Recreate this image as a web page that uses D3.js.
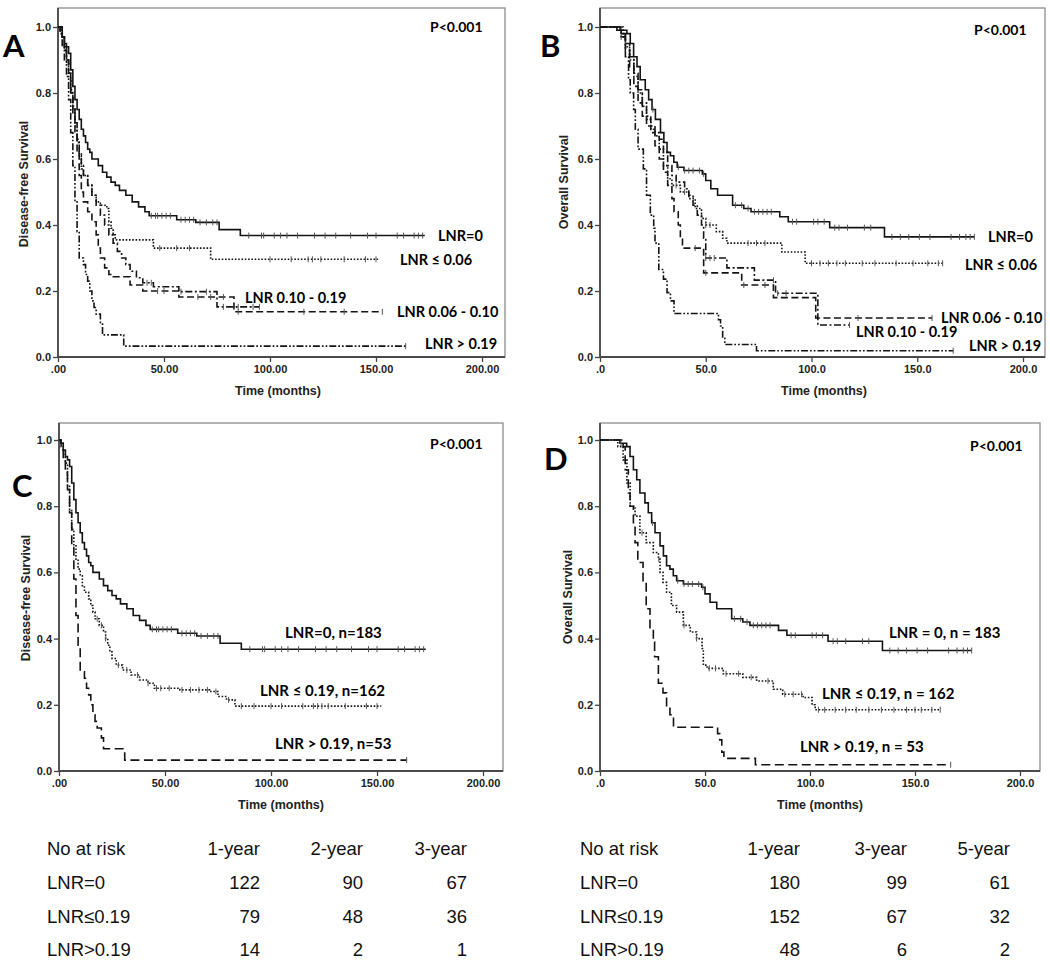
<!DOCTYPE html>
<html><head><meta charset="utf-8">
<script src="https://cdn.jsdelivr.net/npm/d3@7"></script>
<style>body{margin:0;background:#fff}svg{display:block}</style>
</head><body>
<svg id="c" width="1050" height="962"></svg>
<script>
// ---------------- DATA ----------------
const xTicks = [0, 50, 100, 150, 200];
const yTicks = [0, 0.2, 0.4, 0.6, 0.8, 1.0];
const xTickLabelsDFS = [".00", "50.00", "100.00", "150.00", "200.00"];
const xTickLabelsOS = [".0", "50.0", "100.0", "150.0", "200.0"];
const yTickLabels = ["0.0", "0.2", "0.4", "0.6", "0.8", "1.0"];
const xTitle = "Time (months)";
const yTitleDFS = "Disease-free Survival";
const yTitleOS = "Overall Survival";
const pValue = "P<0.001";
const panelLetters = ["A", "B", "C", "D"];

// Disease-free survival, [months, survival]
const dfs_lnr0 = [[0,1],[1,0.99],[2,0.97],[3,0.95],[4,0.94],[5,0.92],[6,0.87],[7,0.82],[8,0.78],[9,0.75],[10,0.72],[11,0.69],[12,0.67],[13,0.65],[14,0.63],[15,0.62],[16,0.60],[19,0.58],[21,0.56],[23,0.545],[25,0.53],[27,0.52],[29,0.505],[32,0.49],[35,0.47],[38,0.455],[41,0.44],[43,0.428],[56,0.416],[65,0.408],[76,0.386],[86,0.368],[173,0.368]];
const dfs_le006 = [[0,1],[2,0.97],[3,0.93],[4,0.89],[5,0.85],[6,0.80],[7,0.75],[8,0.70],[9,0.65],[10,0.61],[11,0.57],[12,0.55],[14,0.52],[16,0.49],[18,0.47],[20,0.46],[23,0.45],[24,0.41],[25,0.39],[26,0.37],[27,0.355],[45,0.33],[72,0.296],[151,0.296]];
const dfs_006_010 = [[0,1],[2,0.97],[3,0.94],[4,0.90],[5,0.86],[6,0.80],[7,0.74],[8,0.68],[9,0.62],[10,0.55],[11,0.50],[12,0.47],[14,0.44],[16,0.41],[18,0.37],[19,0.33],[20,0.30],[22,0.27],[24,0.25],[26,0.243],[34,0.218],[40,0.20],[57,0.182],[83,0.137],[153,0.137]];
const dfs_010_019 = [[0,1],[2,0.97],[3,0.94],[4,0.90],[5,0.86],[6,0.81],[7,0.76],[8,0.71],[9,0.66],[10,0.62],[11,0.58],[12,0.55],[14,0.52],[16,0.49],[18,0.46],[20,0.43],[22,0.40],[24,0.37],[26,0.345],[28,0.32],[30,0.30],[32,0.28],[34,0.26],[37,0.24],[40,0.225],[45,0.213],[57,0.198],[75,0.152],[95,0.152]];
const dfs_gt019 = [[0,1],[1,0.98],[2,0.94],[3,0.90],[4,0.85],[5,0.78],[6,0.68],[7,0.58],[8,0.47],[9,0.38],[10,0.30],[12,0.28],[13,0.25],[14,0.23],[15,0.20],[16,0.17],[17,0.15],[18,0.13],[20,0.10],[21,0.067],[31,0.033],[164,0.033]];
const dfs_le019 = [[0,1],[1,0.99],[2,0.97],[3,0.93],[4,0.86],[5,0.79],[6,0.73],[7,0.68],[8,0.64],[9,0.61],[10,0.59],[11,0.56],[12,0.54],[14,0.52],[15,0.50],[16,0.48],[17,0.46],[19,0.44],[21,0.42],[22,0.40],[23,0.38],[24,0.36],[25,0.34],[27,0.32],[30,0.305],[34,0.29],[38,0.275],[42,0.265],[45,0.25],[57,0.245],[71,0.24],[75,0.225],[79,0.215],[83,0.196],[152,0.196]];

// Overall survival, [months, survival]
const os_lnr0 = [[0,1],[9.5,0.99],[12.7,0.98],[14.3,0.95],[15.9,0.91],[17.5,0.88],[19,0.84],[21.4,0.81],[23,0.78],[24.6,0.75],[26.2,0.72],[28.6,0.68],[30.2,0.65],[31.7,0.62],[33.3,0.61],[34.9,0.59],[36.5,0.575],[39.7,0.565],[48.4,0.555],[50,0.535],[52.4,0.51],[55.6,0.49],[62.7,0.46],[68,0.45],[71.4,0.44],[85,0.425],[89,0.41],[108.6,0.392],[134.5,0.364],[177,0.364]];
const os_le006 = [[0,1],[8,0.99],[10,0.97],[12,0.94],[14,0.90],[16,0.85],[18,0.80],[20,0.76],[22,0.72],[24,0.69],[26,0.67],[28,0.63],[30,0.58],[32,0.54],[34,0.52],[38,0.50],[42,0.48],[45,0.45],[48,0.42],[50,0.40],[55,0.38],[58,0.36],[60,0.345],[86,0.318],[97,0.284],[162,0.284]];
const os_006_010 = [[0,1],[8,0.99],[10,0.97],[12,0.93],[14,0.88],[16,0.82],[18,0.77],[20,0.73],[22,0.70],[24,0.68],[26,0.64],[28,0.60],[30,0.56],[32,0.52],[34,0.48],[35,0.44],[37,0.40],[38,0.36],[39,0.33],[49,0.255],[67,0.218],[82,0.18],[102,0.118],[157,0.118]];
const os_010_019 = [[0,1],[8,0.99],[10,0.98],[12,0.95],[14,0.91],[16,0.86],[18,0.81],[20,0.77],[22,0.73],[24,0.70],[26,0.68],[28,0.66],[30,0.62],[32,0.58],[34,0.55],[36,0.53],[40,0.51],[42,0.49],[44,0.46],[46,0.43],[48,0.40],[49,0.36],[50,0.30],[60,0.27],[73,0.233],[83,0.193],[103,0.097],[118,0.097]];
const os_gt019 = [[0,1],[11,0.98],[12,0.91],[13.5,0.84],[14.3,0.80],[15.9,0.75],[16.7,0.69],[18,0.63],[20.5,0.57],[22,0.49],[23.8,0.43],[25.4,0.39],[26,0.345],[27.8,0.265],[30,0.236],[31.7,0.195],[33.3,0.17],[35,0.132],[56,0.113],[57,0.094],[58,0.057],[59,0.038],[74,0.019],[167,0.019]];
const os_le019 = [[0,1],[8.5,0.98],[11,0.94],[12.8,0.87],[14.4,0.80],[16.7,0.77],[19,0.72],[22,0.69],[25.4,0.66],[27.8,0.64],[28.6,0.60],[30,0.57],[31.7,0.54],[34,0.50],[36.5,0.48],[39.7,0.44],[43,0.42],[46,0.40],[48.6,0.37],[49.2,0.32],[51,0.31],[58.7,0.294],[68,0.283],[74.6,0.272],[82.5,0.247],[87,0.232],[96.7,0.222],[101,0.20],[102.5,0.185],[162,0.185]];

// censored observation times (months)
const cens_dfs_lnr0 = [44,46,47,49,51,53,58,60,62,64,67,70,73,75,90,96,97,102,105,108,113,121,126,131,138,146,150,160,163,168,170,172];
const cens_dfs_le006 = [48,56,62,100,110,118,120,124,135,145,150];
const cens_dfs_006_010 = [47,50,66,72,78,85,116,135,153];
const cens_dfs_010_019 = [42,44,58,70,78,85,92,95];
const cens_dfs_gt019 = [164];
const cens_dfs_le019 = [18,20,22,28,32,37,42,46,48,52,58,62,66,70,74,80,86,92,100,105,115,120,122,124,127,135,145,150];
const cens_os_lnr0 = [10,25,37,40,42,44,47,49,64,67,70,73,75,77,79,81,91,93,101,103,106,111,113,117,125,128,138,142,146,151,156,166,170,173,175,177];
const cens_os_le006 = [10,36,40,50,52,70,74,78,100,104,108,112,116,124,130,140,148,155,160,162];
const cens_os_006_010 = [45,50,68,78,122,157];
const cens_os_010_019 = [50,52,54,82,84,88,118];
const cens_os_gt019 = [167];
const cens_os_le019 = [12,20,28,40,46,52,55,60,66,72,80,88,92,96,104,107,112,117,122,128,134,140,146,150,153,158,162];

const labelsA = ["LNR=0", "LNR \u2264 0.06", "LNR 0.10 - 0.19", "LNR 0.06 - 0.10", "LNR > 0.19"];
const labelsB = ["LNR=0", "LNR \u2264 0.06", "LNR 0.06 - 0.10", "LNR 0.10 - 0.19", "LNR > 0.19"];
const labelsC = ["LNR=0, n=183", "LNR \u2264 0.19, n=162", "LNR > 0.19, n=53"];
const labelsD = ["LNR = 0, n = 183", "LNR \u2264 0.19, n = 162", "LNR > 0.19, n = 53"];

// numbers at risk
const riskRowNames = ["LNR=0", "LNR\u22640.19", "LNR>0.19"];
const riskHeader = "No at risk";
const dfsRiskCols = ["1-year", "2-year", "3-year"];
const dfsRisk = [[122, 90, 67], [79, 48, 36], [14, 2, 1]];
const osRiskCols = ["1-year", "3-year", "5-year"];
const osRisk = [[180, 99, 61], [152, 67, 32], [48, 6, 2]];

// ---------------- LAYOUT / STYLE ----------------
const FONT_AX = "'Liberation Sans', Arial, Helvetica, sans-serif";
const FONT_LB = "Lato, 'Open Sans', sans-serif";
const INK = "#141414";
const dash = {
  solid: null,
  dotted: "1.6,1.7",
  dashed: "7,3.5",
  dashdot: "7,2.5,2,2.5",
  dashdotdot: "7,2,1.7,2,1.7,2",
  longdash: "9,4.5"
};

const panels = [
  { letter: panelLetters[0], letterPos: [3, 57], frame: {l:58, r:505, t:8, b:357}, x200: 482, y1: 27,
    xLabels: xTickLabelsDFS, yTitle: yTitleDFS, yTitlePos: [28, 184], xTitleX: 278, pPos: [430, 32], lblSize: 14.5,
    series: [
      {d: dfs_lnr0, c: cens_dfs_lnr0, s: "solid"},
      {d: dfs_le006, c: cens_dfs_le006, s: "dotted"},
      {d: dfs_006_010, c: cens_dfs_006_010, s: "dashed"},
      {d: dfs_010_019, c: cens_dfs_010_019, s: "dashdot"},
      {d: dfs_gt019, c: cens_dfs_gt019, s: "dashdotdot"}],
    labels: labelsA, labelPos: [[438,241],[400,265],[245,303],[397,317],[425,349]] },
  { letter: panelLetters[1], letterPos: [540, 57], frame: {l:600, r:1045, t:8, b:357}, x200: 1023, y1: 27,
    xLabels: xTickLabelsOS, yTitle: yTitleOS, yTitlePos: [568, 182], xTitleX: 824, pPos: [974, 35], lblSize: 14.5,
    series: [
      {d: os_lnr0, c: cens_os_lnr0, s: "solid"},
      {d: os_le006, c: cens_os_le006, s: "dotted"},
      {d: os_006_010, c: cens_os_006_010, s: "dashed"},
      {d: os_010_019, c: cens_os_010_019, s: "dashdot"},
      {d: os_gt019, c: cens_os_gt019, s: "dashdotdot"}],
    labels: labelsB, labelPos: [[988,242],[965,270],[941,323],[856,337],[969,351]] },
  { letter: panelLetters[2], letterPos: [12, 497], frame: {l:59, r:503, t:423, b:771}, x200: 483, y1: 440,
    xLabels: xTickLabelsDFS, yTitle: yTitleDFS, yTitlePos: [30, 598], xTitleX: 281, pPos: [430, 449], lblSize: 15,
    series: [
      {d: dfs_lnr0, c: cens_dfs_lnr0, s: "solid"},
      {d: dfs_le019, c: cens_dfs_le019, s: "dotted"},
      {d: dfs_gt019, c: cens_dfs_gt019, s: "longdash"}],
    labels: labelsC, labelPos: [[285,638],[260,696],[275,749]] },
  { letter: panelLetters[3], letterPos: [544, 470], frame: {l:600, r:1040, t:423, b:771}, x200: 1020, y1: 440,
    xLabels: xTickLabelsOS, yTitle: yTitleOS, yTitlePos: [572, 597], xTitleX: 820, pPos: [970, 451], lblSize: 15,
    series: [
      {d: os_lnr0, c: cens_os_lnr0, s: "solid"},
      {d: os_le019, c: cens_os_le019, s: "dotted"},
      {d: os_gt019, c: cens_os_gt019, s: "longdash"}],
    labels: labelsD, labelPos: [[889,638],[822,699],[800,752]] }
];

const tables = [
  { cols: dfsRiskCols, vals: dfsRisk, labelX: 47, colX: [260, 363, 467] },
  { cols: osRiskCols, vals: osRisk, labelX: 580, colX: [800, 907, 1010] }
];
const tableRowsY = [855, 889, 923, 956];

// ---------------- DRAW ----------------
const svg = d3.select("#c");

function survAt(d, t) {
  let s = d[0][1];
  for (const p of d) { if (p[0] <= t) s = p[1]; else break; }
  return s;
}

panels.forEach(p => {
  const f = p.frame;
  const g = svg.append("g");
  const x = d3.scaleLinear().domain([0, 200]).range([f.l, p.x200]);
  const y = d3.scaleLinear().domain([0, 1]).range([f.b, p.y1]);

  // frame
  g.append("rect").attr("x", f.l).attr("y", f.t).attr("width", f.r - f.l).attr("height", f.b - f.t)
    .attr("fill", "none").attr("stroke", "#8c8c8c").attr("stroke-width", 1.3);

  // axes
  const xa = g.append("g").attr("transform", `translate(0,${f.b})`)
    .call(d3.axisBottom(x).tickValues(xTicks).tickFormat((d, i) => p.xLabels[i]).tickSize(5).tickPadding(3));
  const ya = g.append("g").attr("transform", `translate(${f.l},0)`)
    .call(d3.axisLeft(y).tickValues(yTicks).tickFormat((d, i) => yTickLabels[i]).tickSize(5).tickPadding(2));
  [xa, ya].forEach(a => {
    a.select(".domain").remove();
    a.selectAll(".tick line").attr("stroke", "#444").attr("stroke-width", 1.3);
    a.selectAll(".tick text").attr("fill", "#222").style("font-family", FONT_AX)
      .style("font-size", "11px").style("font-weight", "bold");
  });
  g.append("line").attr("x1", f.l).attr("x2", f.l).attr("y1", f.t).attr("y2", f.b)
    .attr("stroke", "#4a4a4a").attr("stroke-width", 1.8);
  g.append("line").attr("x1", f.l).attr("x2", f.r).attr("y1", f.b).attr("y2", f.b)
    .attr("stroke", "#4a4a4a").attr("stroke-width", 1.8);

  // curves
  const line = d3.line().x(d => x(d[0])).y(d => y(d[1])).curve(d3.curveStepAfter);
  p.series.forEach(s => {
    g.append("path").attr("d", line(s.d)).attr("fill", "none")
      .attr("stroke", INK).attr("stroke-width", 1.6)
      .attr("stroke-dasharray", dash[s.s]);
    g.selectAll(null).data(s.c).enter().append("line")
      .attr("x1", t => x(t)).attr("x2", t => x(t))
      .attr("y1", t => y(survAt(s.d, t)) - 3).attr("y2", t => y(survAt(s.d, t)) + 3)
      .attr("stroke", "#555").attr("stroke-width", 1);
  });

  // titles
  g.append("text").attr("x", p.xTitleX).attr("y", f.b + 38).attr("text-anchor", "middle")
    .style("font-family", FONT_AX).style("font-size", "12.5px").style("font-weight", "bold")
    .attr("fill", "#222").text(xTitle);
  g.append("text").attr("transform", `translate(${p.yTitlePos[0]},${p.yTitlePos[1]}) rotate(-90)`)
    .attr("text-anchor", "middle")
    .style("font-family", FONT_AX).style("font-size", "12.5px").style("font-weight", "bold")
    .attr("fill", "#222").text(p.yTitle);

  // panel letter and p value
  g.append("text").attr("x", p.letterPos[0]).attr("y", p.letterPos[1])
    .style("font-family", FONT_LB).style("font-size", "31px").style("font-weight", "bold")
    .attr("fill", "#000").text(p.letter);
  g.append("text").attr("x", p.pPos[0]).attr("y", p.pPos[1])
    .style("font-family", FONT_LB).style("font-size", "14px").style("font-weight", "bold")
    .attr("fill", "#000").text(pValue);

  // curve labels
  p.labels.forEach((t, i) => {
    g.append("text").attr("x", p.labelPos[i][0]).attr("y", p.labelPos[i][1])
      .style("font-family", FONT_LB).style("font-size", p.lblSize + "px").style("font-weight", "bold")
      .attr("fill", "#000").text(t);
  });
});

// tables
tables.forEach(tb => {
  const g = svg.append("g").style("font-family", FONT_AX).style("font-size", "18.5px").attr("fill", "#111");
  g.append("text").attr("x", tb.labelX).attr("y", tableRowsY[0]).text(riskHeader);
  tb.cols.forEach((c, j) => g.append("text").attr("x", tb.colX[j]).attr("y", tableRowsY[0])
    .attr("text-anchor", "end").text(c));
  riskRowNames.forEach((r, i) => {
    g.append("text").attr("x", tb.labelX).attr("y", tableRowsY[i + 1]).text(r);
    tb.vals[i].forEach((v, j) => g.append("text").attr("x", tb.colX[j]).attr("y", tableRowsY[i + 1])
      .attr("text-anchor", "end").text(v));
  });
});
</script>
</body></html>
